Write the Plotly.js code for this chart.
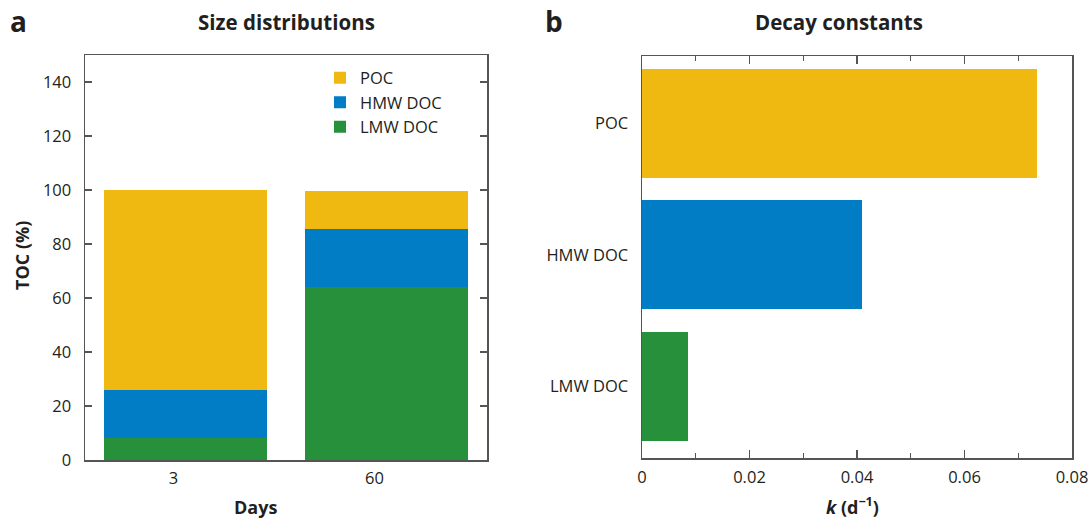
<!DOCTYPE html>
<html><head><meta charset="utf-8">
<script src="https://cdn.plot.ly/plotly-3.0.1.min.js"></script>
<style>html,body{margin:0;padding:0;background:#fff}#chart{width:1089px;height:521px}</style>
</head><body><div id="chart"></div>
<script>
// ---- data ----
const days = ["3", "60"];
const lmwPct = [8, 64];
const hmwPct = [18, 21.5];
const pocPct = [74, 14];
const fractions = ["POC", "HMW DOC", "LMW DOC"];
const decayK = [0.0734, 0.0409, 0.0085];
const leftTicks = [0, 20, 40, 60, 80, 100, 120, 140];

// ---- styles ----
const C_POC = "#F0B912", C_HMW = "#007DC5", C_LMW = "#27903A";
const FONT = "Open Sans, Noto Sans, sans-serif";
const INK = "#231F20";
const LINE = "#555555";
const W = 1089, H = 521;
const px = v => v / W;
const py = v => 1 - v / H;

const traces = [
  {type: "bar", name: "LMW DOC", x: days, y: lmwPct, marker: {color: C_LMW}, width: 0.81, xaxis: "x", yaxis: "y", hoverinfo: "skip"},
  {type: "bar", name: "HMW DOC", x: days, y: hmwPct, marker: {color: C_HMW}, width: 0.81, xaxis: "x", yaxis: "y", hoverinfo: "skip"},
  {type: "bar", name: "POC", x: days, y: pocPct, marker: {color: C_POC}, width: 0.81, xaxis: "x", yaxis: "y", hoverinfo: "skip"},
  {type: "bar", orientation: "h", x: decayK, y: fractions, marker: {color: [C_POC, C_HMW, C_LMW]}, width: 0.827,
   xaxis: "x2", yaxis: "y2", showlegend: false, hoverinfo: "skip"}
];

function note(text, x, y, size, extra) {
  return Object.assign({text: text, x: px(x), y: py(y), xref: "paper", yref: "paper", xanchor: "center", yanchor: "middle",
                        showarrow: false, font: {family: FONT, size: size, color: INK}}, extra || {});
}

const layout = {
  width: W, height: H,
  margin: {l: 0, r: 0, t: 0, b: 0},
  paper_bgcolor: "#fff", plot_bgcolor: "#fff",
  font: {family: FONT, size: 16.5, color: INK},
  barmode: "stack",
  showlegend: true,
  legend: {x: px(320), y: py(60.5), xanchor: "left", yanchor: "top", bgcolor: "rgba(0,0,0,0)",
           font: {family: FONT, size: 16.5, color: INK}, traceorder: "reversed"},
  xaxis: {domain: [px(85), px(487)], anchor: "y", type: "category", range: [-0.5, 1.5],
          showline: true, linecolor: LINE, linewidth: 1.5, mirror: true, ticks: "", showgrid: false,
          zeroline: false, ticklabelstandoff: 3, ticklabelshift: -12, tickfont: {size: 16.5}},
  yaxis: {domain: [py(460), py(55)], anchor: "x", range: [0, 150], tickvals: leftTicks,
          showline: true, linecolor: LINE, linewidth: 1.5, mirror: "ticks", ticks: "inside", ticklen: 7,
          tickwidth: 1.3, tickcolor: LINE, showgrid: false, zeroline: false, ticklabelstandoff: 9, tickfont: {size: 16.5}},
  xaxis2: {domain: [px(642), px(1072)], anchor: "y2", range: [0, 0.08], dtick: 0.02, tick0: 0,
           showline: true, linecolor: LINE, linewidth: 1.5, mirror: "ticks", ticks: "inside", ticklen: 8,
           tickwidth: 1.3, tickcolor: LINE, showgrid: false, zeroline: false, ticklabelstandoff: 4,
           minor: {dtick: 0.01, ticks: "inside", ticklen: 5, tickwidth: 1.3, tickcolor: LINE, showgrid: false},
           tickfont: {size: 16.5}},
  yaxis2: {domain: [py(458), py(56)], anchor: "x2", type: "category", range: [2.545, -0.511],
           showline: true, linecolor: LINE, linewidth: 1.5, mirror: true, ticks: "", showgrid: false,
           zeroline: false, ticklabelstandoff: 9, tickfont: {size: 16.5}},
  annotations: [
    note("<b>a</b>", 18, 21, 28),
    note("<b>b</b>", 554, 21, 28),
    note("<b>Size distributions</b>", 286, 22, 20.5),
    note("<b>Decay constants</b>", 839, 22, 20.5),
    note("<b>TOC (%)</b>", 22, 256, 18, {textangle: -90}),
    note("<b>Days</b>", 255, 507, 18),
    note("<b><i>k</i> (d<sup>\u22121</sup>)</b>", 852, 506, 18)
  ]
};

Plotly.newPlot("chart", traces, layout, {staticPlot: true, displayModeBar: false});
</script>
</body></html>
